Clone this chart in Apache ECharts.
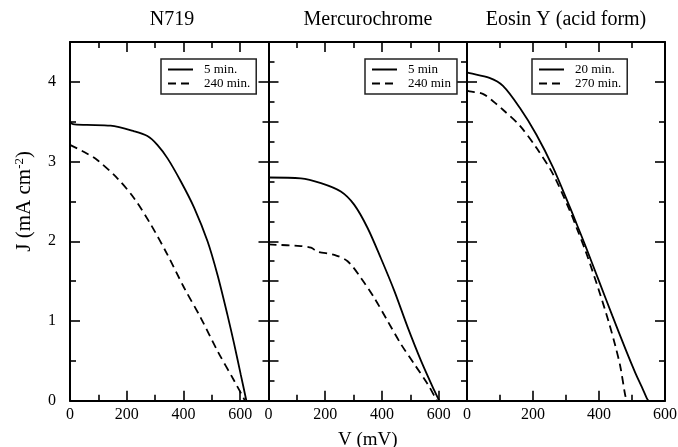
<!DOCTYPE html>
<html><head><meta charset="utf-8">
<script src="https://cdn.jsdelivr.net/npm/echarts@6/dist/echarts.min.js"></script>
<style>html,body{margin:0;padding:0;background:#fff}#c{width:678px;height:447px}</style>
</head><body><div id="c"></div>
<script>
// ---- data (V in mV, J in mA cm^-2) ----
var panelTitles = ['N719', 'Mercurochrome', 'Eosin Y (acid form)'];
var legendNames = [['5 min.', '240 min.'], ['5 min', '240 min'], ['20 min.', '270 min.']];
var xTickLabels = ['0', '200', '400', '600'];
var yTickLabels = ['0', '1', '2', '3', '4'];

var n719_solid_V = [0, 10, 60, 143, 226, 273, 308, 344, 391, 438, 485, 520, 555, 579, 602, 622];
var n719_solid_J = [3.50, 3.47, 3.46, 3.45, 3.38, 3.32, 3.21, 3.04, 2.75, 2.42, 2.00, 1.58, 1.08, 0.71, 0.33, 0];
var n719_dash_V = [0, 50, 96, 167, 226, 285, 344, 402, 461, 520, 579, 614, 616];
var n719_dash_J = [3.21, 3.12, 3.02, 2.79, 2.54, 2.21, 1.83, 1.42, 1.04, 0.625, 0.25, 0.02, 0];

var merc_solid_V = [0, 114, 185, 255, 302, 349, 396, 444, 491, 538, 585, 602];
var merc_solid_J = [2.80, 2.79, 2.73, 2.625, 2.46, 2.17, 1.79, 1.375, 0.92, 0.50, 0.125, 0];
var merc_dash_V = [0, 114, 150, 173, 232, 279, 326, 373, 420, 467, 514, 561, 591, 594];
var merc_dash_J = [1.96, 1.94, 1.92, 1.87, 1.83, 1.75, 1.54, 1.29, 1.00, 0.71, 0.46, 0.21, 0.02, 0];

var eosin_solid_V = [0, 8, 68, 109, 160, 210, 261, 312, 332, 360, 400, 440, 480, 510, 530, 545, 550];
var eosin_solid_J = [4.12, 4.11, 4.05, 3.95, 3.675, 3.34, 2.925, 2.425, 2.22, 1.93, 1.50, 1.07, 0.65, 0.35, 0.17, 0.03, 0];
var eosin_dash_V = [0, 8, 48, 78, 109, 160, 210, 261, 312, 332, 360, 400, 430, 450, 465, 478, 483];
var eosin_dash_J = [3.89, 3.88, 3.85, 3.76, 3.65, 3.45, 3.175, 2.84, 2.38, 2.17, 1.87, 1.38, 0.98, 0.68, 0.42, 0.10, 0];

// ---- build ----
var FONT = 'Liberation Serif';
function pairs(v, j) { return v.map(function (x, i) { return [x, j[i]]; }); }
var solids = [pairs(n719_solid_V, n719_solid_J), pairs(merc_solid_V, merc_solid_J), pairs(eosin_solid_V, eosin_solid_J)];
var dashes = [pairs(n719_dash_V, n719_dash_J), pairs(merc_dash_V, merc_dash_J), pairs(eosin_dash_V, eosin_dash_J)];

var grids = [
  { left: 70, top: 42, width: 198.5, height: 358.7, outerBoundsMode: 'none', containLabel: false },
  { left: 268.5, top: 42, width: 198.5, height: 358.7, outerBoundsMode: 'none', containLabel: false },
  { left: 467, top: 42, width: 198, height: 358.7, outerBoundsMode: 'none', containLabel: false }
];
var xMax = [700, 700, 600];
var yInt = [1, 0.5, 1];

var lineCol = '#000';
function baseAxis() {
  return {
    type: 'value',
    axisLine: { show: true, onZero: false, lineStyle: { color: lineCol, width: 2 } },
    axisTick: { show: true, inside: true, length: 10, lineStyle: { color: lineCol, width: 1.6 } },
    minorTick: { show: true, splitNumber: 2, length: 6, lineStyle: { color: lineCol, width: 1.6 } },
    splitLine: { show: false },
    minorSplitLine: { show: false }
  };
}

var xAxes = [], yAxes = [], series = [], legends = [], titles = [];
for (var g = 0; g < 3; g++) {
  var xb = baseAxis();
  xb.gridIndex = g; xb.position = 'bottom'; xb.min = 0; xb.max = xMax[g]; xb.interval = 200;
  xb.axisLabel = {
    show: true, margin: 6, color: '#000', fontFamily: FONT, fontSize: 16,
    showMaxLabel: xMax[g] === 600, showMinLabel: true,
    formatter: function (v) { var s = String(v); return xTickLabels.indexOf(s) >= 0 ? s : ''; }
  };
  if (g === 1) {
    xb.name = 'V (mV)'; xb.nameLocation = 'middle'; xb.nameGap = 30;
    xb.nameTextStyle = { fontFamily: FONT, fontSize: 19, color: '#000' };
  }
  xAxes.push(xb);
  var xt = baseAxis();
  xt.gridIndex = g; xt.position = 'top'; xt.min = 0; xt.max = xMax[g]; xt.interval = 200;
  xt.axisLabel = { show: false };
  xAxes.push(xt);

  var yl = baseAxis();
  yl.gridIndex = g; yl.position = 'left'; yl.min = 0; yl.max = 4.5; yl.interval = yInt[g];
  yl.axisLabel = {
    show: g === 0, margin: 14, color: '#000', fontFamily: FONT, fontSize: 16,
    showMaxLabel: false,
    formatter: function (v) { var s = String(v); return yTickLabels.indexOf(s) >= 0 ? s : ''; }
  };
  if (g === 0) {
    yl.name = '{a|J (mA cm}{s|-2}{a|)}';
    yl.nameLocation = 'middle'; yl.nameRotate = 90; yl.nameGap = 34;
    yl.nameTextStyle = {
      padding: [0, 0, 0, 40],
      rich: {
        a: { fontFamily: FONT, fontSize: 21, color: '#000' },
        s: { fontFamily: FONT, fontSize: 13, color: '#000', verticalAlign: 'top', padding: [0, 0, 10, 0] }
      }
    };
  }
  yAxes.push(yl);
  var yr = baseAxis();
  yr.gridIndex = g; yr.position = 'right'; yr.min = 0; yr.max = 4.5; yr.interval = yInt[g];
  yr.axisLabel = { show: false };
  yAxes.push(yr);

  series.push({
    type: 'line', name: legendNames[g][0], xAxisIndex: 2 * g, yAxisIndex: 2 * g,
    data: solids[g], showSymbol: false, symbol: 'none', smooth: 0.3,
    lineStyle: { color: '#000', width: 1.8, type: 'solid' }, itemStyle: { color: '#000' }
  });
  series.push({
    type: 'line', name: legendNames[g][1], xAxisIndex: 2 * g, yAxisIndex: 2 * g,
    data: dashes[g], showSymbol: false, symbol: 'none', smooth: 0.3,
    lineStyle: { color: '#000', width: 1.8, type: [8, 5] }, itemStyle: { color: '#000' }
  });
}

var legendLeft = [161, 365, 532];
for (var k = 0; k < 3; k++) {
  legends.push({
    data: legendNames[k], left: legendLeft[k], top: 59, orient: 'vertical',
    itemGap: 1, itemWidth: 25, itemHeight: 13, padding: [4, 6, 4, 6],
    borderColor: '#222', borderWidth: 1.5, backgroundColor: '#fff', selectedMode: false,
    itemStyle: { opacity: 0, borderWidth: 0 },
    lineStyle: { width: 2 },
    textStyle: { fontFamily: FONT, fontSize: 13, color: '#000', padding: [0, 0, 0, 6] }
  });
}

var titleX = [172, 368, 566];
for (var t = 0; t < 3; t++) {
  titles.push({
    text: panelTitles[t], left: titleX[t], top: 10, textAlign: 'center', padding: 0,
    textStyle: { fontFamily: FONT, fontSize: 20, fontWeight: 'normal', color: '#000' }
  });
}

var chart = echarts.init(document.getElementById('c'), null, { renderer: 'canvas' });
chart.setOption({
  animation: false,
  backgroundColor: '#fff',
  title: titles,
  grid: grids,
  xAxis: xAxes,
  yAxis: yAxes,
  legend: legends,
  series: series
});
</script></body></html>
